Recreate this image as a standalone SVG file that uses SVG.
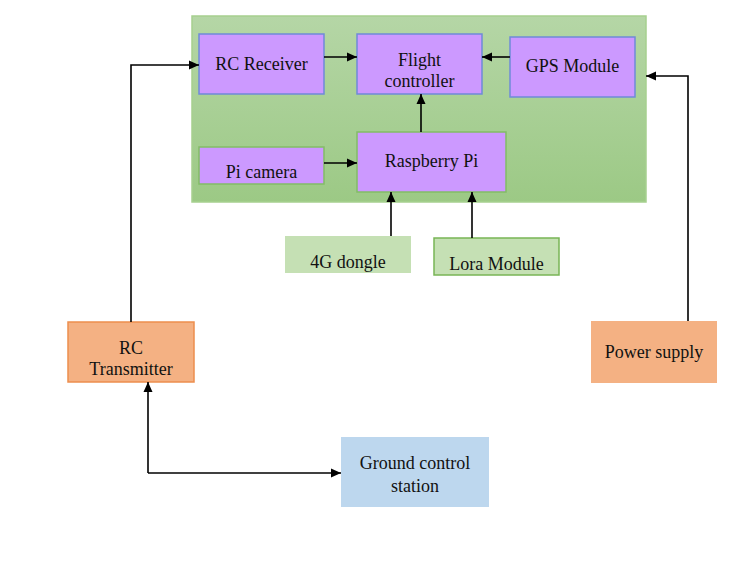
<svg xmlns="http://www.w3.org/2000/svg" width="744" height="570" viewBox="0 0 744 570">
<defs>
<linearGradient id="gbg" x1="0" y1="0" x2="0" y2="1">
<stop offset="0" stop-color="#b5d6a6"/>
<stop offset="1" stop-color="#9cc985"/>
</linearGradient>
<marker id="ah" markerWidth="11" markerHeight="10" refX="10" refY="5" orient="auto" markerUnits="userSpaceOnUse">
<path d="M0,0.5 L10,5 L0,9.5 Z" fill="#000"/>
</marker>
<clipPath id="dclip"><rect x="285" y="236" width="126" height="37"/></clipPath>
</defs>
<style>
text{font-family:"Liberation Serif","Times New Roman",serif;font-size:18px;fill:#111;text-anchor:middle}
.pb{fill:#cc99ff;stroke:#6f8ad8;stroke-width:1.5}
.pg{fill:#cc99ff;stroke:#82bd66;stroke-width:1.5}
.c{fill:none;stroke:#000;stroke-width:1.6;marker-end:url(#ah)}
</style>
<rect width="744" height="570" fill="#fff"/>
<g id="drone-frame">
<rect x="192" y="16" width="454" height="186" fill="url(#gbg)" stroke="#a6d08f" stroke-width="1.5"/>
</g>
<g id="rc-receiver">
<rect class="pb" x="199" y="34" width="125" height="60"/>
<text x="261.5" y="70">RC Receiver</text>
</g>
<g id="flight-controller">
<rect class="pb" x="357" y="34" width="125" height="60"/>
<text x="419.5" y="66">Flight</text>
<text x="419.5" y="87">controller</text>
</g>
<g id="gps-module">
<rect class="pb" x="510" y="37" width="125" height="60"/>
<text x="572.5" y="72">GPS Module</text>
</g>
<g id="pi-camera">
<rect class="pg" x="199" y="147" width="125" height="37"/>
<text x="261.5" y="178">Pi camera</text>
</g>
<g id="raspberry-pi">
<rect class="pg" x="357" y="132" width="149" height="60"/>
<text x="431.5" y="167">Raspberry Pi</text>
</g>
<g id="dongle-4g">
<rect x="285" y="236" width="126" height="37" fill="#c5e0b4"/>
<text x="348" y="268" clip-path="url(#dclip)">4G dongle</text>
</g>
<g id="lora-module">
<rect x="434" y="238" width="125" height="37" fill="#c5e0b4" stroke="#78b556" stroke-width="1.5"/>
<text x="496.5" y="270">Lora Module</text>
</g>
<g id="rc-transmitter">
<rect x="68" y="322" width="126" height="60" fill="#f4b183" stroke="#ed8e4e" stroke-width="1.5"/>
<text x="131" y="354">RC</text>
<text x="131" y="375">Transmitter</text>
</g>
<g id="power-supply">
<rect x="591" y="321" width="126" height="62" fill="#f4b183"/>
<text x="654" y="358">Power supply</text>
</g>
<g id="ground-control-station">
<rect x="341" y="437" width="148" height="70" fill="#bdd7ee"/>
<text x="415" y="469">Ground control</text>
<text x="415" y="492">station</text>
</g>
<g id="connectors">
<path class="c" d="M324,57 L357,57"/>
<path class="c" d="M510,57 L482,57"/>
<path class="c" d="M421,132 L421,94"/>
<path class="c" d="M324,163 L357,163"/>
<path class="c" d="M391,236 L391,192"/>
<path class="c" d="M472,238 L472,192"/>
<path class="c" d="M131,322 L131,65 L199,65"/>
<path class="c" d="M688,321 L688,76 L646,76"/>
<path class="c" d="M148,473 L341,473"/>
<path class="c" d="M148,473 L148,382"/>
</g>
</svg>
